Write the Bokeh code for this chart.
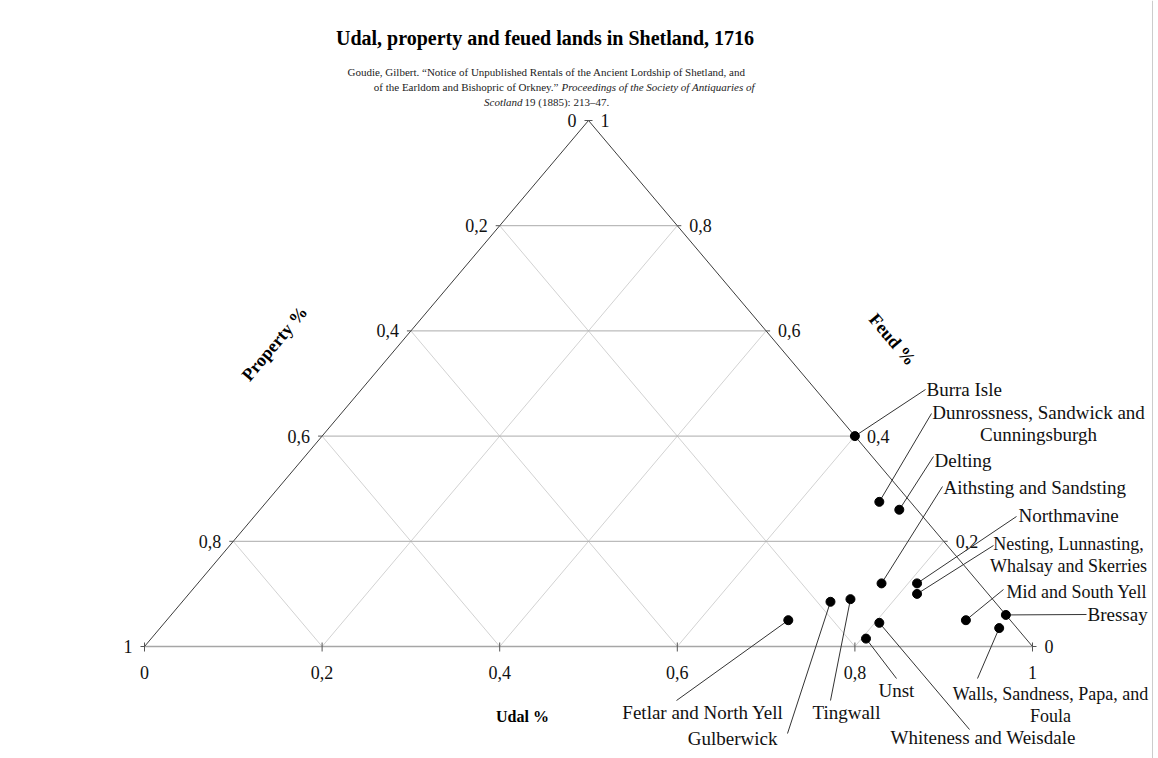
import math
from bokeh.plotting import figure
from bokeh.models import Range1d
from bokeh.core.properties import value
from bokeh.embed import file_html
from bokeh.resources import INLINE

# ---------------- data ----------------
districts = [
    "Burra Isle",
    "Dunrossness, Sandwick and Cunningsburgh",
    "Delting",
    "Aithsting and Sandsting",
    "Northmavine",
    "Nesting, Lunnasting, Whalsay and Skerries",
    "Gulberwick",
    "Tingwall",
    "Fetlar and North Yell",
    "Whiteness and Weisdale",
    "Unst",
    "Mid and South Yell",
    "Bressay",
    "Walls, Sandness, Papa, and Foula",
]
udal = [0.60, 0.69, 0.72, 0.77, 0.81, 0.82, 0.73, 0.75, 0.70, 0.805, 0.805, 0.90, 0.94, 0.945]
prop = [0.00, 0.035, 0.02, 0.11, 0.07, 0.08, 0.185, 0.16, 0.25, 0.15, 0.18, 0.05, 0.00, 0.02]
feud = [0.40, 0.275, 0.26, 0.12, 0.12, 0.10, 0.085, 0.09, 0.05, 0.045, 0.015, 0.05, 0.06, 0.035]

ticks = [0.0, 0.2, 0.4, 0.6, 0.8, 1.0]
tick_labels = ["0", "0,2", "0,4", "0,6", "0,8", "1"]

title = "Udal,  property and feued lands in Shetland, 1716"

# ---------------- layout ----------------
FONT = "Liberation Serif"
X0, X1, YB, YT = 144.0, 1032.0, 646.0, 120.0  # triangle placement on picture (px)
W, H = 1158, 758


def tern(u, p, f):
    s = u + p + f
    u, p, f = u / s, p / s, f / s
    xf = u + f / 2.0
    return X0 + xf * (X1 - X0), -(YB - f * (YB - YT))


def Y(py):
    return -py


p = figure(width=W, height=H, output_backend="svg", toolbar_location=None,
           x_range=Range1d(0, W), y_range=Range1d(-H, 0),
           x_axis_location=None, y_axis_location=None, min_border=0)
p.grid.visible = False
p.outline_line_color = None
p.background_fill_color = "white"
p.border_fill_color = "white"

# grid lines
diag_xs, diag_ys, hor_xs, hor_ys = [], [], [], []
for t in ticks[1:-1]:
    a = tern(t, 1 - t, 0)
    b = tern(t, 0, 1 - t)
    diag_xs.append([a[0], b[0]]); diag_ys.append([a[1], b[1]])
    a = tern(1 - t, t, 0)
    b = tern(0, t, 1 - t)
    diag_xs.append([a[0], b[0]]); diag_ys.append([a[1], b[1]])
    a = tern(0, 1 - t, t)
    b = tern(1 - t, 0, t)
    hor_xs.append([a[0], b[0]]); hor_ys.append([a[1], b[1]])
p.multi_line(diag_xs, diag_ys, line_color="#d2d2d2", line_width=1)
p.multi_line(hor_xs, hor_ys, line_color="#ababab", line_width=1)

# triangle edges
A = tern(0, 1, 0)
B = tern(1, 0, 0)
C = tern(0, 0, 1)
p.line([A[0], B[0]], [A[1], B[1]], line_color="#a6a6a6", line_width=1.5)
p.multi_line([[A[0], C[0]], [C[0], B[0]]], [[A[1], C[1]], [C[1], B[1]]],
             line_color="#3c3c3c", line_width=1)

# tick marks
tk_xs, tk_ys = [], []
for t in ticks:
    bx, by = tern(t, 1 - t, 0)
    tk_xs.append([bx, bx]); tk_ys.append([by + 4, by - 5])
    lx, ly = tern(0, 1 - t, t)
    tk_xs.append([lx - 4, lx]); tk_ys.append([ly, ly])
    rx, ry = tern(1 - t, 0, t)
    tk_xs.append([rx, rx + 4]); tk_ys.append([ry, ry])
p.multi_line(tk_xs, tk_ys, line_color="#555555", line_width=1)

# tick labels
bxs, bys, lxs, lys, rxs, rys = [], [], [], [], [], []
for t in ticks:
    x, y = tern(t, 1 - t, 0); bxs.append(x); bys.append(y - 26)
    x, y = tern(0, t, 1 - t); lxs.append(x - 12); lys.append(y)
    x, y = tern(1 - t, 0, t); rxs.append(x + 12); rys.append(y)
tk = dict(text_font=value(FONT), text_font_size="18px", text_baseline="middle",
          text_color="#111111")
p.text(bxs, bys, text=tick_labels, text_align="center", **tk)
p.text(lxs, lys, text=tick_labels, text_align="right", **tk)
p.text(rxs, rys, text=tick_labels, text_align="left", **tk)

# axis titles
ang = math.atan2(YB - YT, (X1 - X0) / 2.0)
p.text([522], [Y(716)], text=["Udal %"], text_font=value(FONT), text_font_size="16px",
       text_font_style="bold", text_align="center", text_baseline="middle")
p.text([274], [Y(343)], text=["Property %"], text_font=value(FONT), text_font_size="18px",
       text_font_style="bold", text_align="center", text_baseline="middle", angle=ang)
p.text([892], [Y(339)], text=["Feud %"], text_font=value(FONT), text_font_size="18px",
       text_font_style="bold", text_align="center", text_baseline="middle", angle=-ang)

# data labels: (lines, x, first-line y, align, leader end, font size)
label_layout = [
    (["Burra Isle"], 926, 389, "left", (925, 389), 19),
    (["Dunrossness, Sandwick and", "Cunningsburgh"], 1038, 412, "center", (931, 413), 19),
    (["Delting"], 934, 460, "left", (933, 456), 19),
    (["Aithsting and Sandsting"], 943, 487, "left", (942, 486), 19),
    (["Northmavine"], 1018, 515, "left", (1016, 516), 19),
    (["Nesting, Lunnasting,", "Whalsay and Skerries"], 1068, 543, "center", (993, 545), 18),
    (["Gulberwick"], 777, 738, "right", (787, 733), 19),
    (["Tingwall"], 812, 712, "left", (830, 700), 19),
    (["Fetlar and North Yell"], 783, 712, "right", (676, 700), 19),
    (["Whiteness and Weisdale"], 890, 737, "left", (969, 729), 19),
    (["Unst"], 878, 690, "left", (896, 678), 19),
    (["Mid and South Yell"], 1006, 591, "left", (1003, 589), 18),
    (["Bressay"], 1087, 614, "left", (1086, 614), 19),
    (["Walls, Sandness, Papa, and", "Foula"], 1050, 693, "center", (977, 678), 18),
]

pts = [tern(u, pp, f) for u, pp, f in zip(udal, prop, feud)]
ld_xs, ld_ys = [], []
for (lines, lx, ly, al, end, fs), (px_, py_) in zip(label_layout, pts):
    ld_xs.append([px_, end[0]]); ld_ys.append([py_, Y(end[1])])
    for i, ln in enumerate(lines):
        p.text([lx], [Y(ly + 22 * i)], text=[ln], text_font=value(FONT), text_font_size=f"{fs}px",
               text_align=al, text_baseline="middle", text_color="#111111")
p.multi_line(ld_xs, ld_ys, line_color="#333333", line_width=1)

p.scatter([q[0] for q in pts], [q[1] for q in pts], size=9, fill_color="black",
          line_color="black")

# title & citation
p.text([547], [Y(37)], text=[title], text_font=value(FONT), text_font_size="20px",
       text_font_style="bold", text_align="center", text_baseline="alphabetic")
cit = dict(text_font=value(FONT), text_font_size="11px", text_baseline="alphabetic",
           text_color="#222222")
p.text([546], [Y(71)], text=["Goudie, Gilbert. \u201cNotice of Unpublished Rentals of the Ancient Lordship of Shetland, and"],
       text_align="center", **cit)
p.text([558], [Y(86)], text=["of the Earldom and Bishopric of Orkney.\u201d"], text_align="right", **cit)
p.text([561], [Y(86)], text=["Proceedings of the Society of Antiquaries of"], text_align="left",
       text_font_style="italic", **cit)
p.text([522], [Y(101.5)], text=["Scotland"], text_align="right", text_font_style="italic", **cit)
p.text([524], [Y(101.5)], text=["19 (1885): 213\u201347."], text_align="left", **cit)

# right frame border
p.line([1152, 1152], [Y(0), Y(758)], line_color="#cccccc", line_width=1)

open("out.html", "w").write(file_html(p, INLINE))
